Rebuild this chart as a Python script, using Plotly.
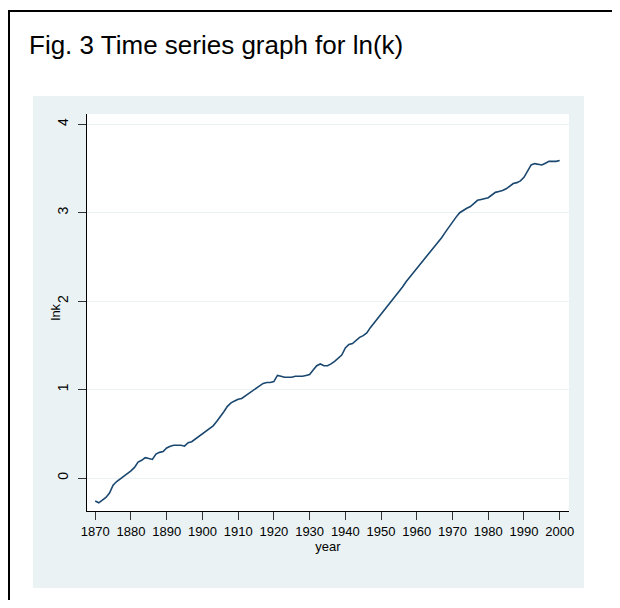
import plotly.graph_objects as go

years = list(range(1870, 2001))
lnk = [
    -0.26, -0.28, -0.25, -0.22, -0.17, -0.08, -0.04, -0.01, 0.01, 0.04,   # 1870-1879
    0.08, 0.12, 0.18, 0.20, 0.23, 0.22, 0.21, 0.27, 0.29, 0.30,           # 1880-1889
    0.34, 0.36, 0.37, 0.37, 0.37, 0.36, 0.40, 0.41, 0.44, 0.47,           # 1890-1899
    0.50, 0.54, 0.57, 0.59, 0.64, 0.69, 0.75, 0.81, 0.85, 0.87,           # 1900-1909
    0.89, 0.90, 0.93, 0.95, 0.98, 1.02, 1.04, 1.07, 1.08, 1.08,           # 1910-1919
    1.09, 1.16, 1.15, 1.14, 1.14, 1.14, 1.15, 1.15, 1.15, 1.16,           # 1920-1929
    1.17, 1.22, 1.27, 1.29, 1.27, 1.27, 1.29, 1.32, 1.35, 1.39,           # 1930-1939
    1.47, 1.51, 1.52, 1.56, 1.59, 1.61, 1.64, 1.70, 1.75, 1.80,           # 1940-1949
    1.86, 1.91, 1.96, 2.01, 2.06, 2.11, 2.16, 2.22, 2.27, 2.32,           # 1950-1959
    2.37, 2.42, 2.46, 2.51, 2.56, 2.61, 2.67, 2.72, 2.78, 2.84,           # 1960-1969
    2.90, 2.95, 3.00, 3.03, 3.05, 3.07, 3.11, 3.14, 3.15, 3.16,           # 1970-1979
    3.17, 3.20, 3.23, 3.24, 3.25, 3.27, 3.30, 3.33, 3.34, 3.36,           # 1980-1989
    3.40, 3.47, 3.54, 3.555, 3.55, 3.54, 3.56, 3.58, 3.58, 3.58,          # 1990-1999
    3.59,                                                                  # 2000
]
x_ticks = list(range(1870, 2001, 10))
y_ticks = [0, 1, 2, 3, 4]

title_text = "Fig. 3 Time series graph for ln(k)"
x_title = "year"
y_title = "lnk"

# the page body has an 8px margin, so the figure is sized to fit the window
W, H = 604, 592
L, R, T, B = 79, 43, 106, 89
PW, PH = W - L - R, H - T - B
FONT = "Liberation Sans, Arial, sans-serif"
NAVY = "#1a476f"
BGREG = "#eaf2f3"


def px(xp):
    return (xp - L) / PW


def py(yp):
    return (H - B - yp) / PH


fig = go.Figure()
fig.add_trace(go.Scatter(x=years, y=lnk, mode="lines",
                         line=dict(color=NAVY, width=1.6), showlegend=False))

shapes = [
    # page frame (top and left edges): black sheet covered by a white sheet offset by 2px
    dict(type="rect", xref="paper", yref="paper", x0=px(0), x1=px(W + 40), y0=py(H + 40), y1=py(2),
         fillcolor="black", line=dict(width=0), layer="below"),
    dict(type="rect", xref="paper", yref="paper", x0=px(2), x1=px(W + 40), y0=py(H + 40), y1=py(4),
         fillcolor="white", line=dict(width=0), layer="below"),
    dict(type="rect", xref="paper", yref="paper", x0=px(25), x1=px(576), y0=py(580), y1=py(88),
         fillcolor=BGREG, line=dict(width=0), layer="below"),
    dict(type="rect", xref="paper", yref="paper", x0=0, x1=1, y0=0, y1=1,
         fillcolor="white", line=dict(width=0), layer="below"),
]

fig.update_layout(
    width=W, height=H,
    margin=dict(l=L, r=R, t=T, b=B, autoexpand=False),
    paper_bgcolor="white", plot_bgcolor="white",
    font=dict(family=FONT, size=13, color="black"),
    shapes=shapes,
    annotations=[
        dict(text=title_text, xref="paper", yref="paper", x=px(19), y=py(37),
             xanchor="left", yanchor="middle", showarrow=False,
             font=dict(size=26, family=FONT, color="black")),
        dict(text=y_title, xref="paper", yref="paper", x=px(47), y=0.5,
             xanchor="center", yanchor="middle", showarrow=False, textangle=-90,
             font=dict(size=13, family=FONT, color="black")),
    ],
    xaxis=dict(range=[1867.7, 2002.6], tickvals=x_ticks, ticks="outside", ticklen=8,
               tickcolor="#333333", showline=True, linecolor="black", linewidth=1,
               showgrid=False, zeroline=False,
               title=dict(text=x_title, font=dict(size=13), standoff=0),
               tickfont=dict(size=13)),
    yaxis=dict(range=[-0.373, 4.116], tickvals=y_ticks, ticks="outside", ticklen=8,
               tickcolor="#333333", showline=True, linecolor="black", linewidth=1,
               showgrid=True, gridcolor=BGREG, gridwidth=1.2, zeroline=False,
               tickangle=-90, ticklabelstandoff=4,
               tickfont=dict(size=14)),
)

fig.write_html("out.html")
